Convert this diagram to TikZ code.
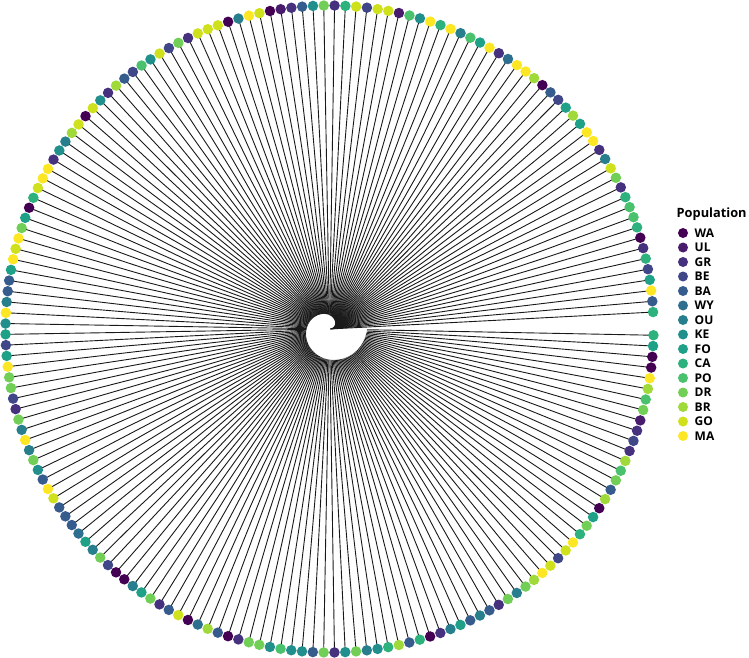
\documentclass[tikz,border=0pt]{standalone}
\usepackage{fontspec}
\setmainfont{Open Sans}
\usetikzlibrary{backgrounds}
\definecolor{p1}{HTML}{440154}
\definecolor{p2}{HTML}{481B6D}
\definecolor{p3}{HTML}{46317E}
\definecolor{p4}{HTML}{3F4788}
\definecolor{p5}{HTML}{365C8D}
\definecolor{p6}{HTML}{2E6E8E}
\definecolor{p7}{HTML}{277F8E}
\definecolor{p8}{HTML}{21908C}
\definecolor{p9}{HTML}{1FA187}
\definecolor{p10}{HTML}{2DB27D}
\definecolor{p11}{HTML}{4AC16D}
\definecolor{p12}{HTML}{71CF57}
\definecolor{p13}{HTML}{9FDA3A}
\definecolor{p14}{HTML}{CFE11C}
\definecolor{p15}{HTML}{FDE725}
\begin{document}
\begin{tikzpicture}[x=1pt,y=-1pt,
  tipdot/.style={circle,inner sep=0pt,minimum size=10.5pt,draw=none},
  branch/.style={line width=0.9pt,black!90},
  legdot/.style={circle,inner sep=0pt,minimum size=10pt,draw=none},
  legtext/.style={anchor=west,inner sep=0pt,font=\bfseries\fontsize{12}{13}\selectfont},
  legtitle/.style={anchor=west,inner sep=0pt,font=\bfseries\fontsize{12.8}{14}\selectfont}]
\useasboundingbox (0,0) rectangle (749,658);
\coordinate (root) at (329.5,329);
\foreach \pp [count=\i] in {10,5,15,9,4,10,3,1,10,11,11,10,3,12,14,7,3,15,15,9,
13,9,4,5,1,13,15,15,6,3,15,9,11,7,15,10,15,8,11,2,
14,14,4,14,10,3,12,8,5,3,2,1,14,15,7,1,14,14,14,3,
12,4,14,8,11,4,5,13,3,8,14,1,14,13,7,8,3,15,15,14,
10,1,9,12,15,14,15,9,5,5,7,15,8,9,4,9,15,12,12,4,
3,12,7,15,7,12,8,5,15,14,5,5,5,6,9,7,12,4,1,1,
7,9,12,3,5,14,1,6,13,5,1,3,12,12,8,11,8,8,5,12,
3,8,12,7,8,10,13,5,10,1,3,7,9,5,7,5,3,12,7,12,
13,15,14,4,14,15,10,12,9,1,13,5,12,11,13,3,4,3,2,12,
11,13,15,1,1,9,10} {
  \pgfmathsetmacro\ang{3.0+(\i-1)*1.9134}
  \pgfmathsetmacro\rin{0.614*(max((\i-1)*1.9134,1))^0.7}
  \coordinate (in\i) at ({329.5+\rin*cos(\ang)},{329-\rin*sin(\ang)});
  \node[tipdot,fill=p\pp] (t\i) at ({329.5+324*cos(\ang)},{329-323.5*sin(\ang)}) {};
}
\begin{scope}[on background layer]
\foreach \i in {1,...,187} {
  \draw[branch] (in\i) -- (t\i.center);
}
\end{scope}
% legend
\node[legtitle] (legtitle) at (676.5,214) {Population};
\foreach \lab [count=\k] in {WA,UL,GR,BE,BA,WY,OU,KE,FO,CA,PO,DR,BR,GO,MA} {
  \node[legdot,fill=p\k] (ld\k) at (683,{233+(\k-1)*14.5}) {};
  \node[legtext] (ll\k) at (694.5,{233+(\k-1)*14.5}) {\lab};
}
\end{tikzpicture}
\end{document}
